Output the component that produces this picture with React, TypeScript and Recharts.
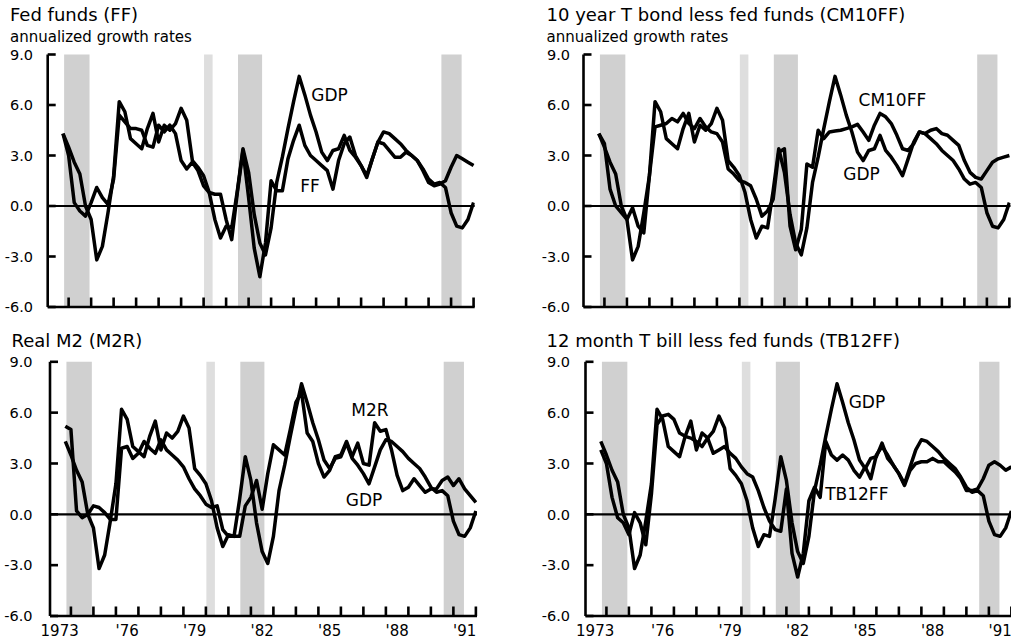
import React from "react";
import { LineChart, Line, XAxis, YAxis, ReferenceArea, ReferenceLine, ReferenceDot } from "recharts";

const FONT = '"DejaVu Sans", Verdana, sans-serif';

// quarterly observations, 1973Q3 through 1991Q4 (plotted at quarter end)
const FIRST_YEAR = 1973;
const FIRST_QUARTER = 3;

const GDP = [
  4.3, 3.5, 2.6, 1.9, 0.0, -0.8, -3.2, -2.4, -0.4, 1.8,
  6.2, 5.6, 4.0, 3.7, 3.4, 4.6, 5.5, 3.8, 4.8, 4.5,
  4.9, 5.8, 5.1, 2.7, 2.3, 1.8, 0.8, -0.8, -1.9, -1.2,
  -1.3, 0.9, 3.4, 2.0, -0.5, -2.2, -2.9, -1.3, 1.4, 2.9,
  4.6, 6.2, 7.7, 6.6, 5.4, 4.4, 3.2, 2.7, 3.3, 3.4,
  4.2, 3.3, 2.9, 2.4, 1.8, 2.8, 3.8, 4.4, 4.3, 4.0,
  3.7, 3.3, 3.0, 2.7, 2.2, 1.6, 1.3, 1.4, 1.1, -0.4,
  -1.2, -1.3, -0.8, 0.2,
];

const FF = [
  4.3, 3.0, 0.2, -0.3, -0.6, 0.2, 1.1, 0.5, 0.1, 1.6,
  5.4, 5.0, 4.6, 4.6, 4.5, 3.6, 3.5, 4.8, 4.4, 4.8,
  4.3, 2.7, 2.2, 2.6, 2.1, 1.2, 0.8, 0.7, 0.7, -0.8,
  -2.0, 0.8, 3.3, 0.5, -2.5, -4.2, -2.2, 1.5, 0.9, 0.9,
  2.8, 3.9, 4.8, 3.6, 3.0, 2.7, 2.4, 2.1, 1.0, 2.7,
  3.7, 4.1, 3.0, 2.4, 1.7, 2.8, 3.8, 3.7, 3.3, 2.9,
  2.9, 3.2, 3.0, 2.7, 2.1, 1.4, 1.2, 1.3, 1.5, 2.3,
  3.0, 2.8, 2.6, 2.4,
];

const CM10FF = [
  4.3, 3.7, 1.0, 0.0, -0.4, -0.8, -0.1, -1.2, -1.6, 1.8,
  4.7, 4.8, 4.9, 5.2, 5.0, 5.5, 4.9, 4.6, 5.2, 4.7,
  4.4, 4.3, 3.8, 2.2, 1.9, 1.5, 1.4, 1.2, 0.4, -0.6,
  -0.3, 0.4, 3.2, 3.4, -1.2, -2.6, -1.4, 2.5, 2.3, 4.5,
  4.0, 4.4, 4.45, 4.5, 4.6, 4.7, 4.85, 4.4, 3.9, 4.8,
  5.5, 5.3, 4.9, 4.2, 3.4, 3.3, 3.7, 4.4, 4.3, 4.5,
  4.6, 4.3, 4.2, 3.9, 3.6, 2.7, 2.0, 1.7, 1.6, 2.1,
  2.6, 2.8, 2.9, 3.0,
];

const M2R = [
  5.2, 5.0, 0.2, -0.2, 0.0, 0.5, 0.4, 0.1, -0.3, -0.3,
  3.9, 4.0, 3.3, 3.6, 4.3, 3.9, 3.6, 4.4, 3.8, 3.5,
  3.2, 2.8, 2.1, 1.5, 1.1, 0.6, 0.4, 0.5, -0.9, -1.3,
  -1.3, -1.3, 0.5, 1.0, 2.0, 0.3, 2.4, 4.1, 3.8, 3.5,
  5.0, 6.6, 7.2, 4.8, 4.3, 3.0, 2.2, 2.6, 3.4, 3.5,
  4.3, 3.4, 4.2, 3.0, 2.9, 5.4, 4.9, 5.0, 3.8, 2.3,
  1.4, 1.6, 2.1, 1.7, 1.3, 1.5, 1.5, 2.0, 2.2, 1.7,
  2.1, 1.5, 1.1, 0.7,
];

const TB12FF = [
  3.8, 3.0, 1.0, -0.2, -0.5, -1.2, 0.1, -0.5, -1.8, 1.2,
  5.3, 5.8, 5.9, 5.6, 4.8, 4.6, 4.5, 4.3, 4.0, 4.5,
  3.6, 3.8, 4.0, 3.6, 3.3, 2.8, 2.4, 2.2, 1.4, 0.4,
  -0.4, -0.9, -1.0, 1.5, -2.3, -3.7, -2.3, 0.8, 1.6, 1.0,
  4.3, 3.5, 3.2, 3.5, 3.2, 2.6, 2.2, 2.8, 2.1, 3.5,
  4.0, 3.5, 2.9, 2.4, 1.7, 2.6, 3.0, 3.1, 3.1, 3.3,
  3.1, 3.1, 2.8, 2.5, 2.1, 1.4, 1.4, 1.5, 2.1, 2.9,
  3.1, 2.9, 2.6, 2.8,
];

// tick marks sit on year boundaries, labels are centred on the year they name
const YEAR_TICKS = [
  1974, 1975, 1976, 1977, 1978, 1979, 1980, 1981, 1982, 1983,
  1984, 1985, 1986, 1987, 1988, 1989, 1990, 1991, 1992,
];
const LABELLED_YEARS = [1973, 1976, 1979, 1982, 1985, 1988, 1991];
const Y_TICKS = [-6, -3, 0, 3, 6, 9];

// shaded recession periods
const RECESSIONS = [
  [1973.8, 1974.93],
  [1980.02, 1980.4],
  [1981.53, 1982.6],
  [1990.57, 1991.47],
];

const X_DOMAIN: [number, number] = [1973.07, 1992.05];
const Y_DOMAIN: [number, number] = [-6, 9];
const PLOT_W = 427;
const Y_AXIS_W = 45;
const X_AXIS_H = 28;

const quarterEnd = (i: number) => FIRST_YEAR + (FIRST_QUARTER + i) / 4;

const buildRows = (other: number[]) =>
  GDP.map((g, i) => ({ t: quarterEnd(i), gdp: g, other: other[i] }));

const yearLabel = (y: number) => (y === 1973 ? "1973" : "'" + String(y).slice(2));

const PANELS = [
  {
    id: "ff",
    title: "Fed funds (FF)",
    subtitle: "annualized growth rates",
    values: FF,
    left: 0, top: 0,
    plotLeft: 47.7, plotTop: 54.5, plotH: 252.5,
    titleX: 10, titleY: 20.5,
    labelRight: 33,
    showYears: false,
    notes: [
      { text: "GDP", t: 1985.6, v: 6.6 },
      { text: "FF", t: 1984.73, v: 1.2 },
    ],
  },
  {
    id: "cm10ff",
    title: "10 year T bond less fed funds (CM10FF)",
    subtitle: "annualized growth rates",
    values: CM10FF,
    left: 500, top: 0,
    plotLeft: 583.5, plotTop: 54.5, plotH: 252.5,
    titleX: 546.5, titleY: 20.5,
    labelRight: 570,
    showYears: false,
    notes: [
      { text: "CM10FF", t: 1986.8, v: 6.3 },
      { text: "GDP", t: 1985.43, v: 1.9 },
    ],
  },
  {
    id: "m2r",
    title: "Real M2 (M2R)",
    subtitle: "",
    values: M2R,
    left: 0, top: 310,
    plotLeft: 50, plotTop: 361.8, plotH: 254.2,
    titleX: 11.5, titleY: 346.5,
    labelRight: 32.5,
    showYears: true,
    notes: [
      { text: "M2R", t: 1987.29, v: 6.16 },
      { text: "GDP", t: 1987.03, v: 0.85 },
    ],
  },
  {
    id: "tb12ff",
    title: "12 month T bill less fed funds (TB12FF)",
    subtitle: "",
    values: TB12FF,
    left: 500, top: 310,
    plotLeft: 585.5, plotTop: 361.8, plotH: 254.2,
    titleX: 546.5, titleY: 346.5,
    labelRight: 570,
    showYears: true,
    notes: [
      { text: "GDP", t: 1985.58, v: 6.65 },
      { text: "TB12FF", t: 1985.13, v: 1.2 },
    ],
  },
];

type PanelDef = (typeof PANELS)[number];

// same linear mapping the chart's axes use, for the inward tick marks
const xPx = (p: PanelDef, t: number) =>
  p.plotLeft + ((t - X_DOMAIN[0]) / (X_DOMAIN[1] - X_DOMAIN[0])) * PLOT_W;
const yPx = (p: PanelDef, v: number) =>
  p.plotTop + ((Y_DOMAIN[1] - v) / (Y_DOMAIN[1] - Y_DOMAIN[0])) * p.plotH;

function XTick({ x, y, payload, showYears }: any) {
  const year = payload.value - 1;
  if (!showYears || !LABELLED_YEARS.includes(year)) return <g />;
  return (
    <text x={x - 11.25} y={y + 20} textAnchor="middle" fontSize={15} fontFamily={FONT} fill="#000">
      {yearLabel(year)}
    </text>
  );
}

function YTick({ x, y, payload, gap }: any) {
  return (
    <text x={x - gap} y={y + 5.3} textAnchor="end" fontSize={14.5} fontFamily={FONT} fill="#000">
      {Number(payload.value).toFixed(1)}
    </text>
  );
}

function Panel({ p }: { p: PanelDef }) {
  const relLeft = p.plotLeft - p.left;
  const relTop = p.plotTop - p.top;
  const width = relLeft + PLOT_W + 10;
  const height = relTop + p.plotH + X_AXIS_H;
  const data = buildRows(p.values);
  const gap = p.plotLeft - p.labelRight;

  return (
    <div style={{ position: "absolute", left: p.left, top: p.top }}>
      <LineChart
        width={width}
        height={height}
        data={data}
        margin={{ top: relTop, right: 10, bottom: 0, left: relLeft - Y_AXIS_W }}
      >
        {RECESSIONS.map(([a, b], i) => (
          <ReferenceArea key={i} x1={a} x2={b} fill={i === 1 ? "#dedede" : "#d0d0d0"} fillOpacity={1} stroke="none" />
        ))}
        <XAxis
          dataKey="t"
          type="number"
          domain={X_DOMAIN}
          allowDataOverflow
          ticks={YEAR_TICKS}
          interval={0}
          height={X_AXIS_H}
          tickSize={0}
          tickMargin={0}
          tickLine={false}
          axisLine={{ stroke: "#000", strokeWidth: 2.6 }}
          tick={(props: any) => <XTick {...props} showYears={p.showYears} />}
        />
        <YAxis
          type="number"
          domain={Y_DOMAIN}
          allowDataOverflow
          ticks={Y_TICKS}
          interval={0}
          width={Y_AXIS_W}
          tickSize={0}
          tickMargin={0}
          tickLine={false}
          axisLine={{ stroke: "#000", strokeWidth: 2.6 }}
          tick={(props: any) => <YTick {...props} gap={gap} />}
        />
        <ReferenceLine y={0} stroke="#000" strokeWidth={2.2} />
        <Line
          type="linear"
          dataKey="other"
          stroke="#000"
          strokeWidth={3.5}
          strokeLinejoin="round"
          dot={false}
          isAnimationActive={false}
        />
        <Line
          type="linear"
          dataKey="gdp"
          stroke="#000"
          strokeWidth={3.5}
          strokeLinejoin="round"
          dot={false}
          isAnimationActive={false}
        />
        {p.notes.map((n) => (
          <ReferenceDot
            key={n.text}
            x={n.t}
            y={n.v}
            r={0}
            ifOverflow="visible"
            shape={(s: any) => (
              <text x={s.cx} y={s.cy + 6} textAnchor="middle" fontSize={17} fontFamily={FONT} fill="#000">
                {n.text}
              </text>
            )}
          />
        ))}
      </LineChart>
    </div>
  );
}

// short inward tick marks on both axes
function AxisMarks({ p }: { p: PanelDef }) {
  const bottom = yPx(p, Y_DOMAIN[0]);
  return (
    <g fill="#000">
      {YEAR_TICKS.map((yr) => {
        const x = xPx(p, yr);
        return <rect key={"x" + yr} x={x - 1.3} y={bottom - 9.5} width={2.6} height={9.5} />;
      })}
      {Y_TICKS.map((v) => {
        const y = yPx(p, v);
        return <rect key={"y" + v} x={p.plotLeft} y={y - 1.3} width={8} height={2.6} />;
      })}
    </g>
  );
}

export default function App() {
  return (
    <div
      style={{
        position: "absolute",
        left: 0,
        top: 0,
        width: 1011,
        height: 643,
        overflow: "hidden",
        background: "#fff",
      }}
    >
      {PANELS.map((p) => (
        <Panel key={p.id} p={p} />
      ))}
      <svg width={1011} height={643} style={{ position: "absolute", left: 0, top: 0, pointerEvents: "none" }}>
        {PANELS.map((p) => (
          <g key={p.id}>
            <AxisMarks p={p} />
            <g fontFamily={FONT} fill="#000">
              <text x={p.titleX} y={p.titleY} fontSize={18}>
                {p.title}
              </text>
              {p.subtitle && (
                <text x={p.titleX} y={p.titleY + 21} fontSize={15}>
                  {p.subtitle}
                </text>
              )}
            </g>
          </g>
        ))}
      </svg>
    </div>
  );
}
